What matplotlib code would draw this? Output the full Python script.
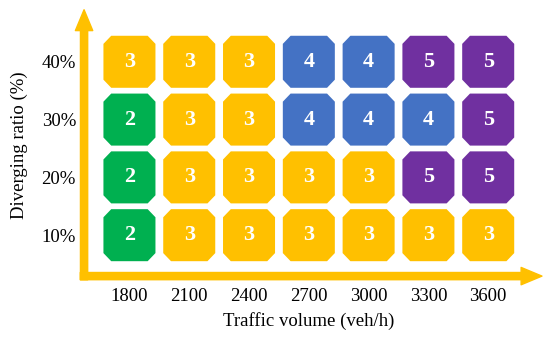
import numpy as np
import matplotlib
matplotlib.use('Agg')
import matplotlib.pyplot as plt
from matplotlib.patches import Polygon

plt.rcParams['font.family'] = ['Liberation Serif', 'DejaVu Serif']

# data
volumes = ['1800', '2100', '2400', '2700', '3000', '3300', '3600']
ratios = ['10%', '20%', '30%', '40%']
levels = [
    [2, 3, 3, 3, 3, 3, 3],   # 10%
    [2, 3, 3, 3, 3, 5, 5],   # 20%
    [2, 3, 3, 4, 4, 4, 5],   # 30%
    [3, 3, 3, 4, 4, 5, 5],   # 40%
]
level_colors = {2: '#00B050', 3: '#FFC000', 4: '#4472C4', 5: '#7030A0'}
axis_color = '#FFC000'

fig = plt.figure(figsize=(5.5, 3.39), dpi=100)
ax = fig.add_axes([0.181, 0.221, 0.761, 0.682])

hw, hh = 0.435, 0.45   # half size of a cell
cx, cy = 0.13, 0.14    # corner cut
for j, row in enumerate(levels):
    for i, v in enumerate(row):
        pts = [(i - hw + cx, j - hh), (i + hw - cx, j - hh), (i + hw, j - hh + cy),
               (i + hw, j + hh - cy), (i + hw - cx, j + hh), (i - hw + cx, j + hh),
               (i - hw, j + hh - cy), (i - hw, j - hh + cy)]
        ax.add_patch(Polygon(pts, closed=True, facecolor=level_colors[v],
                             edgecolor='none'))
        ax.text(i, j, str(v), ha='center', va='center', color='white',
                fontsize=16, fontweight='bold')

ax.set_xlim(-0.5, len(volumes) - 0.5)
ax.set_ylim(-0.5, len(ratios) - 0.5)
ax.set_xticks(range(len(volumes)))
ax.set_xticklabels(volumes)
ax.set_yticks(range(len(ratios)))
ax.set_yticklabels(ratios)
ax.tick_params(length=0, labelsize=13.5, pad=17)
for s in ax.spines.values():
    s.set_visible(False)
ax.set_xlabel('Traffic volume (veh/h)', fontsize=13.5, labelpad=5)
ax.set_ylabel('Diverging ratio (%)', fontsize=13.5)
ax.yaxis.set_label_coords(-0.17, 0.515)

# axis arrows
arrow = dict(arrowstyle='simple,head_width=1.25,head_length=1.5,tail_width=0.52',
             mutation_scale=10, color=axis_color, shrinkA=0, shrinkB=0)
ax.annotate('', xy=(-0.037, 1.10), xytext=(-0.037, -0.068), xycoords='axes fraction',
            textcoords='axes fraction', arrowprops=arrow, annotation_clip=False)
ax.annotate('', xy=(1.057, -0.052), xytext=(-0.046, -0.052), xycoords='axes fraction',
            textcoords='axes fraction', arrowprops=arrow, annotation_clip=False)

fig.savefig('out.png', dpi=100)
